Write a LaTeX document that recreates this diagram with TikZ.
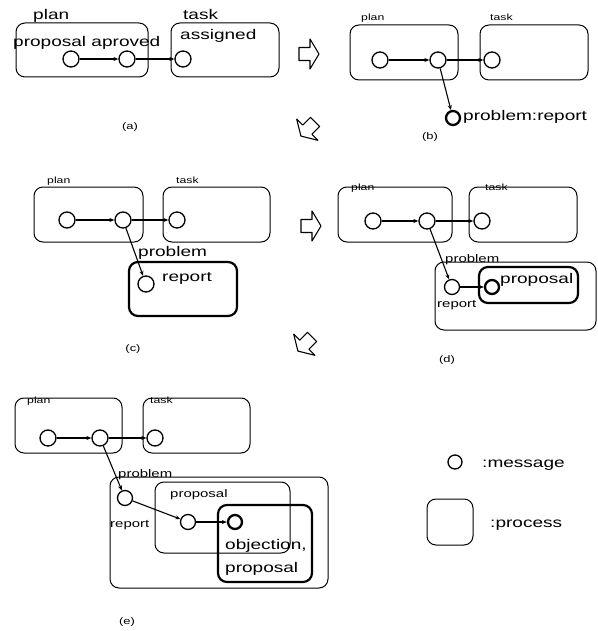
\documentclass[tikz,border=0pt]{standalone}
\usepackage{fontspec}
\setmainfont{Liberation Sans}[FakeStretch=1.36]
\usetikzlibrary{arrows.meta,fit}
\begin{document}
\begin{tikzpicture}[x=1pt,y=-1pt,
  proc/.style={draw, line width=1pt, rounded corners=9pt, inner sep=0pt},
  procthick/.style={proc, line width=2.2pt},
  msg/.style={draw, circle, line width=1.3pt, minimum size=16pt, inner sep=0pt},
  msgthick/.style={msg, line width=2.3pt, minimum size=14pt},
  flow/.style={line width=1.1pt, -{Stealth[length=5pt,width=4pt]}},
  big/.style={font=\fontsize{14}{16}\selectfont, inner sep=0pt, anchor=base west},
  med/.style={font=\fontsize{11}{13}\selectfont, inner sep=0pt, anchor=base west},
  small/.style={font=\fontsize{9}{11}\selectfont, inner sep=0pt, anchor=base west},
  caption/.style={font=\fontsize{9.5}{11}\selectfont, inner sep=0pt},
  bigarrow/.pic={\draw[line width=1.1pt, line join=round] (-10,-6.5) -- (1,-6.5) -- (1,-15) -- (10,0) -- (1,15) -- (1,6.5) -- (-10,6.5) -- cycle;}
]
\useasboundingbox (0,0) rectangle (597,631);

% ---------- (a) ----------
\node[proc, fit={(16,23) (148,77)}] (aplan) {};
\node[proc, fit={(171,23) (279,77)}] (atask) {};
\node[big] (aplanl) at (33,20) {plan};
\node[big] (ataskl) at (183,20) {task};
\node[big] (aprop) at (13,47) {proposal aproved};
\node[big] (aass) at (180,40) {assigned};
\node[msg] (a1) at (71,59) {};
\node[msg] (a2) at (127,59) {};
\node[msg] (a3) at (183,59) {};
\draw[flow] (a1) -- (a2);
\draw[flow] (a2) -- (a3);
\node[caption] (acap) at (130,127) {(a)};

% big arrows
\pic (arr1) at (309,54) {bigarrow};
\pic[rotate=225] (arr2) at (308,129) {bigarrow};
\pic (arr3) at (311,226) {bigarrow};
\pic[rotate=225] (arr4) at (305,344) {bigarrow};

% ---------- (b) ----------
\node[proc, fit={(350,25) (458,80)}] (bplan) {};
\node[proc, fit={(480,25) (588,80)}] (btask) {};
\node[small] (bplanl) at (361,21) {plan};
\node[small] (btaskl) at (490,21) {task};
\node[msg] (b1) at (380,60) {};
\node[msg] (b2) at (438,60) {};
\node[msg] (b3) at (492,60) {};
\node[msgthick] (bp) at (453,118) {};
\node[big] (bpl) at (463,121) {problem:report};
\draw[flow] (b1) -- (b2);
\draw[flow] (b2) -- (b3);
\draw[flow] (b2) -- (bp);
\node[caption] (bcap) at (430,137) {(b)};

% ---------- (c) ----------
\node[proc, fit={(34,187) (143,242)}] (cplan) {};
\node[proc, fit={(163,187) (270,242)}] (ctask) {};
\node[small] (cplanl) at (47,183) {plan};
\node[small] (ctaskl) at (176,183) {task};
\node[msg] (c1) at (67,220) {};
\node[msg] (c2) at (123,220) {};
\node[msg] (c3) at (177,220) {};
\node[procthick, fit={(129,262) (237,316)}] (cprob) {};
\node[big] (cprobl) at (138,256) {problem};
\node[msg] (cr) at (146,284) {};
\node[big] (crl) at (162,281) {report};
\draw[flow] (c1) -- (c2);
\draw[flow] (c2) -- (c3);
\draw[flow] (c2) -- (cr);
\node[caption] (ccap) at (133,349) {(c)};

% ---------- (d) ----------
\node[proc, fit={(338,187) (452,242)}] (dplan) {};
\node[proc, fit={(469,187) (577,242)}] (dtask) {};
\node[small] (dplanl) at (351,190) {plan};
\node[small] (dtaskl) at (485,190) {task};
\node[msg] (d1) at (373,221) {};
\node[msg] (d2) at (427,221) {};
\node[msg] (d3) at (482,221) {};
\node[proc, fit={(435,262) (596,330)}] (dprob) {};
\node[med] (dprobl) at (445,262) {problem};
\node[msg, minimum size=15pt] (dr) at (452,287) {};
\node[med] (drl) at (437,307) {report};
\node[procthick, fit={(479,267) (578,303)}] (dprop) {};
\node[msgthick] (dp) at (492,287) {};
\node[big] (dpl) at (500,283) {proposal};
\draw[flow] (d1) -- (d2);
\draw[flow] (d2) -- (d3);
\draw[flow] (d2) -- (dr);
\draw[flow, line width=1.7pt] (dr) -- (dp);
\node[caption] (dcap) at (447,360) {(d)};

% ---------- (e) ----------
\node[proc, fit={(15,398) (122,453)}] (eplan) {};
\node[proc, fit={(143,398) (250,453)}] (etask) {};
\node[small] (eplanl) at (27,403) {plan};
\node[small] (etaskl) at (150,403) {task};
\node[msg] (e1) at (48,438) {};
\node[msg] (e2) at (100,438) {};
\node[msg] (e3) at (155,438) {};
\node[proc, fit={(110,477) (328,588)}] (eprob) {};
\node[med] (eprobl) at (118,477) {problem};
\node[msg, minimum size=15pt] (er) at (125,498) {};
\node[med] (erl) at (110,527) {report};
\node[proc, fit={(155,482) (290,553)}] (eprop) {};
\node[med] (epropl) at (170,497) {proposal};
\node[msg, minimum size=15pt] (ep) at (188,522) {};
\node[procthick, fit={(218,505) (312,582)}] (eobj) {};
\node[msgthick] (eo) at (235,522) {};
\node[big] (eobjl1) at (225,549) {objection,};
\node[big] (eobjl2) at (225,572) {proposal};
\draw[flow] (e1) -- (e2);
\draw[flow] (e2) -- (e3);
\draw[flow] (e2) -- (er);
\draw[flow] (er) -- (ep);
\draw[flow, line width=1.7pt] (ep) -- (eo);
\node[caption] (ecap) at (127,622) {(e)};

% ---------- legend ----------
\node[msg, minimum size=14pt] (lmsg) at (455,462) {};
\node[big] (lmsgl) at (482,467) {:message};
\node[proc, fit={(427,499) (473,545)}] (lproc) {};
\node[big] (lprocl) at (490,527) {:process};
\end{tikzpicture}
\end{document}
